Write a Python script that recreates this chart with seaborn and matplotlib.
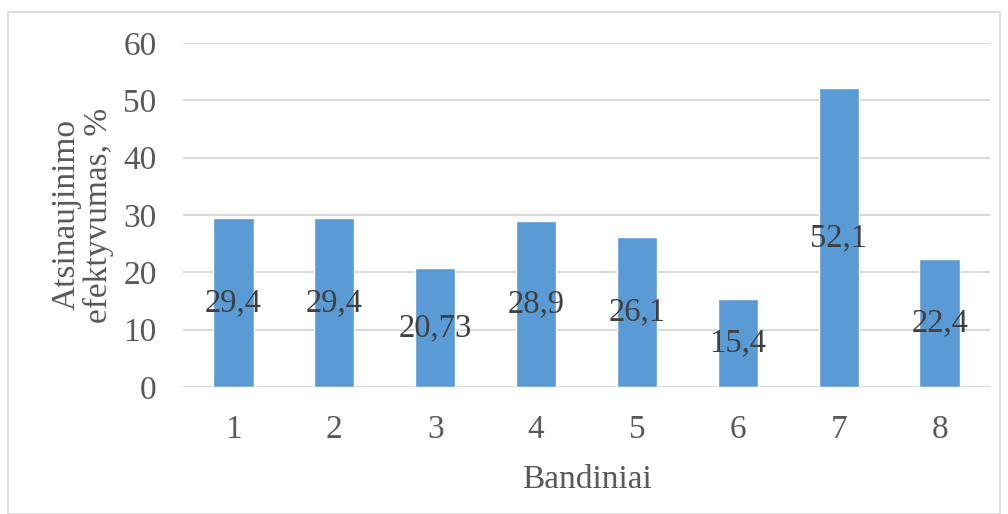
import matplotlib
matplotlib.use("Agg")
import matplotlib.pyplot as plt
import seaborn as sns
import pandas as pd
from matplotlib.patches import Rectangle

categories = ["1", "2", "3", "4", "5", "6", "7", "8"]
values = [29.4, 29.4, 20.73, 28.9, 26.1, 15.4, 52.1, 22.4]
labels = ["29,4", "29,4", "20,73", "28,9", "26,1", "15,4", "52,1", "22,4"]
yticks = [0, 10, 20, 30, 40, 50, 60]

sns.set_theme(style="white")
plt.rcParams["font.family"] = ["Liberation Serif", "DejaVu Serif"]

df = pd.DataFrame({"Bandiniai": categories, "val": values})

fig = plt.figure(figsize=(10.08, 5.14), dpi=100)
ax = fig.add_axes([183/1008, 1-387/514, (990-183)/1008, (387-43)/514])

sns.barplot(data=df, x="Bandiniai", y="val", color="#5B9BD5", width=0.4,
            saturation=1, ax=ax, zorder=3)

ax.set_ylim(0, 60)
ax.set_yticks(yticks)
ax.set_xlim(-0.5, 7.5)
ax.grid(axis="y", color="#D9D9D9", linewidth=1.5, zorder=0)
for s in ax.spines.values():
    s.set_visible(False)
ax.tick_params(axis="both", length=0, labelsize=24, colors="#595959")
ax.tick_params(axis="x", pad=20)
ax.tick_params(axis="y", pad=19)

for i, (v, lab) in enumerate(zip(values, labels)):
    ax.text(i, v / 2, lab, ha="center", va="center", fontsize=23.5,
            color="#404040", zorder=4)

ax.set_xlabel("Bandiniai", fontsize=24, color="#595959", labelpad=14)
ax.set_ylabel("Atsinaujinimo\nefektyvumas, %", fontsize=24, color="#595959",
              labelpad=7, linespacing=1.05)

fig.patches.append(Rectangle((8/1008, 0), (1000-8)/1008, 1-12/514,
                             transform=fig.transFigure, fill=False,
                             edgecolor="#D9D9D9", linewidth=1.2))

fig.savefig("out.png", dpi=100, facecolor="white")
